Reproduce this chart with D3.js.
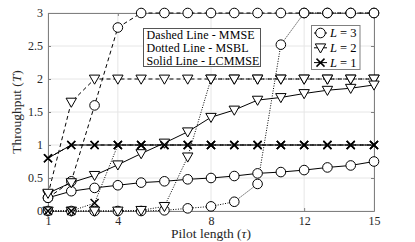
<!DOCTYPE html>
<html><head><meta charset="utf-8">
<script src="https://cdn.jsdelivr.net/npm/d3@7/dist/d3.min.js"></script>
<style>body{margin:0;background:#fff}svg{display:block}svg text{font-family:"Liberation Serif","DejaVu Serif",serif !important}</style>
</head><body><svg id="c" width="415" height="242"></svg>
<script>
const pilot = [1,2,3,4,5,6,7,8,9,10,11,12,13,14,15];
const xTicks = [1,4,8,12,15];
const yTicks = [0,0.5,1,1.5,2,2.5,3];
const yTickLabels = ["0","0.5","1","1.5","2","2.5","3"];
// MMSE (dashed)
const mmseL3 = [0.2,0.45,1.6,2.78,3,3,3,3,3,3,3,3,3,3,3];
const mmseL2 = [0.25,1.65,2,2,2,2,2,2,2,2,2,2,2,2,2];
const mmseL1 = [0.8,1,1,1,1,1,1,1,1,1,1,1,1,1,1];
// MSBL (dotted)
const msblL3 = [0,0,0,0,0,0.01,0.04,0.07,0.14,0.41,2.52,3,3,3,3];
const msblL2 = [0,0,0,0,0.01,0.07,0.82,2,2,2,2,2,2,2,2];
const msblL1 = [0,0,0.12,1,1,1,1,1,1,1,1,1,1,1,1];
// LCMMSE (solid)
const lcL3 = [0.2,0.3,0.35,0.39,0.43,0.45,0.48,0.5,0.53,0.57,0.59,0.62,0.66,0.69,0.75];
const lcL2 = [0.27,0.43,0.54,0.7,0.87,1.03,1.2,1.42,1.53,1.68,1.72,1.78,1.83,1.86,1.91];
const lcL1 = [0.8,1,1,1,1,1,1,1,1,1,1,1,1,1,1];
const methodLegend = ["Dashed Line - MMSE","Dotted Line - MSBL","Solid Line - LCMMSE"];
const markerLegend = [{m:"circle",n:"3"},{m:"tri",n:"2"},{m:"cross",n:"1"}];

const FONT = '"Liberation Serif","DejaVu Serif",serif';
const m = {l:48,t:13,r:41,b:31};
const W = 415, H = 242;
const w = W-m.l-m.r, h = H-m.t-m.b;
const svg = d3.select("#c");
const g = svg.append("g").attr("transform",`translate(${m.l},${m.t})`);
const x = d3.scaleLinear().domain([1,15]).range([0,w]);
const y = d3.scaleLinear().domain([0,3]).range([h,0]);

// grid
g.append("g").selectAll("line").data(xTicks).join("line")
 .attr("x1",d=>x(d)).attr("x2",d=>x(d)).attr("y1",0).attr("y2",h).attr("stroke","#e6e6e6");
g.append("g").selectAll("line").data(yTicks).join("line")
 .attr("y1",d=>y(d)).attr("y2",d=>y(d)).attr("x1",0).attr("x2",w).attr("stroke","#e6e6e6");

// axes
g.append("g").attr("transform",`translate(0,${h})`).call(d3.axisBottom(x).tickValues(xTicks).tickSizeInner(-3).tickSizeOuter(0).tickPadding(5));
g.append("g").call(d3.axisLeft(y).tickValues(yTicks).tickFormat((d,i)=>yTickLabels[i]).tickSizeInner(-3).tickSizeOuter(0).tickPadding(5));
g.append("g").attr("transform",`translate(${w},0)`).call(d3.axisRight(y).tickValues(yTicks).tickFormat("").tickSizeInner(-3).tickSizeOuter(0));
g.append("g").call(d3.axisTop(x).tickValues(xTicks).tickFormat("").tickSizeInner(-3).tickSizeOuter(0));
g.selectAll(".domain").attr("stroke","#808080");
g.selectAll(".tick line").attr("stroke","#808080");
g.selectAll("g").attr("font-family",FONT);
g.selectAll(".tick text").attr("font-family",FONT).attr("font-size","12px").attr("fill","#262626");

// marker drawing
function drawMarker(sel, type, cx, cy){
  if(type==="circle"){
    sel.append("circle").attr("cx",cx).attr("cy",cy).attr("r",4.8).attr("fill","#fff").attr("stroke","#000").attr("stroke-width",1);
  } else if(type==="tri"){
    const s=5.2;
    sel.append("path").attr("d",`M${cx-s},${cy-s*0.75}L${cx+s},${cy-s*0.75}L${cx},${cy+s*1.0}Z`).attr("fill","#fff").attr("stroke","#000").attr("stroke-width",1);
  } else {
    const s=4;
    sel.append("path").attr("d",`M${cx-s},${cy-s}L${cx+s},${cy+s}M${cx-s},${cy+s}L${cx+s},${cy-s}`).attr("stroke","#000").attr("stroke-width",1.5);
  }
}
const line = d3.line().x((d,i)=>x(pilot[i])).y(d=>y(d));
const series = [
  {v:msblL3,mk:"circle",dash:"1,1.5"},
  {v:msblL2,mk:"tri",dash:"1,1.5"},
  {v:msblL1,mk:"cross",dash:"1,1.5"},
  {v:mmseL3,mk:"circle",dash:"4,3"},
  {v:mmseL2,mk:"tri",dash:"4,3"},
  {v:mmseL1,mk:"cross",dash:"4,3"},
  {v:lcL3,mk:"circle",dash:null},
  {v:lcL2,mk:"tri",dash:null},
  {v:lcL1,mk:"cross",dash:null}
];
series.forEach(s=>{
  const sg = g.append("g");
  sg.append("path").datum(s.v).attr("d",line).attr("fill","none").attr("stroke","#000").attr("stroke-width",1)
    .attr("stroke-dasharray",s.dash);
  s.v.forEach((d,i)=>drawMarker(sg,s.mk,x(pilot[i]),y(d)));
});

// method legend
const lg = svg.append("g");
lg.append("rect").attr("x",143.5).attr("y",28.5).attr("width",117).attr("height",38).attr("fill","#fff").attr("stroke","#555").attr("stroke-width",1);
methodLegend.forEach((t,i)=>{
  lg.append("text").attr("x",146.5).attr("y",38.5+i*13.3).attr("font-family",FONT).attr("font-size","12px")
    .attr("letter-spacing","0.1px").attr("fill","#000").text(t);
});

// marker legend
const ml = svg.append("g");
ml.append("rect").attr("x",311.5).attr("y",25.5).attr("width",48.5).attr("height",44).attr("fill","#fff").attr("stroke","#808080").attr("stroke-width",1);
markerLegend.forEach((d,i)=>{
  const cy = 33+i*14.8;
  ml.append("line").attr("x1",314).attr("x2",327).attr("y1",cy).attr("y2",cy).attr("stroke","#000");
  drawMarker(ml,d.m,320.5,cy);
  const t = ml.append("text").attr("x",330).attr("y",cy+4).attr("font-family",FONT).attr("font-size","12.5px").attr("fill","#000");
  t.append("tspan").attr("font-style","italic").text("L");
  t.append("tspan").text(" = "+d.n);
});

// axis labels
svg.append("text").attr("x",m.l+w/2).attr("y",238).attr("text-anchor","middle").attr("font-family",FONT).attr("font-size","13.5px").attr("fill","#262626")
  .html('Pilot length (<tspan font-style="italic">τ</tspan>)');
svg.append("text").attr("transform",`translate(21,${m.t+h/2}) rotate(-90)`).attr("text-anchor","middle").attr("font-family",FONT).attr("font-size","13.5px").attr("fill","#262626")
  .html('Throughput (<tspan font-style="italic">T</tspan>)');
</script></body></html>
